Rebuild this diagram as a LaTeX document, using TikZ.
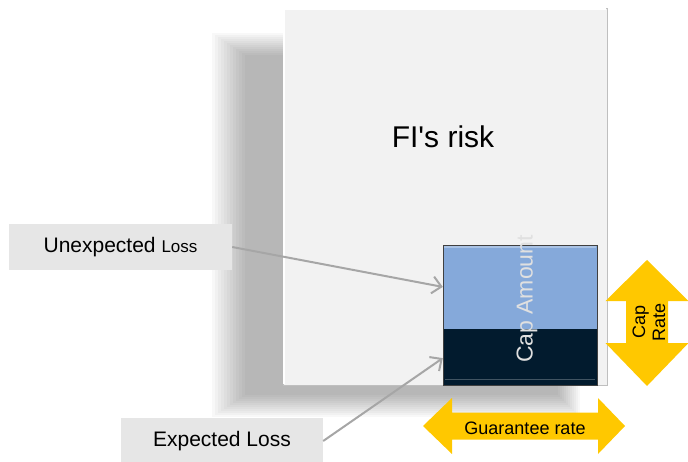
\documentclass[tikz,border=0pt]{standalone}
\usepackage{fontspec}
\setmainfont{Liberation Sans}
\usetikzlibrary{arrows.meta,positioning,calc}
\definecolor{RiskFill}{RGB}{242,242,242}
\definecolor{RiskLine}{RGB}{191,191,191}
\definecolor{CapBlue}{RGB}{133,169,218}
\definecolor{CapNavy}{RGB}{2,27,46}
\definecolor{RateGold}{RGB}{255,200,0}
\definecolor{LabelFill}{RGB}{230,230,230}
\definecolor{PointerGray}{RGB}{166,166,166}

\begin{document}
\begin{tikzpicture}[
  x=1pt,
  y=1pt,
  riskbox/.style={
    rectangle,
    draw=RiskLine,
    fill=RiskFill,
    minimum width=324pt,
    minimum height=377pt,
    inner sep=0pt
  },
  capbox/.style={
    rectangle,
    draw=black!75,
    fill=CapBlue,
    minimum width=154pt,
    minimum height=140pt,
    inner sep=0pt
  },
  lossbox/.style={
    rectangle,
    fill=LabelFill,
    minimum height=46pt,
    inner sep=0pt,
    font=\fontsize{21}{25}\selectfont
  },
  pointer/.style={-{Straight Barb[length=9pt,width=17pt]}, draw=PointerGray, line width=2pt},
  goldarrow/.style={fill=RateGold},
  ratetext/.style={align=center, font=\fontsize{18}{20}\selectfont}
]
\useasboundingbox (0,0) rectangle (688,461);

% soft shadow behind the risk box
\foreach \i in {0,...,11}
  \fill[black, opacity=0.028] (212+3*\i,44+2*\i) rectangle (580-2*\i,428-2*\i);

% risk box
\node[riskbox] (bigbox) at (445,264.5) {};
\draw[white, line width=2pt] ($(bigbox.south west)+(1.5,1.5)$) -- ($(bigbox.north west)+(1.5,-1.5)$) -- ($(bigbox.north east)+(-1.5,-1.5)$);
\node[font=\fontsize{30}{36}\selectfont] (risk) at (443,324) {FI\textquotesingle s risk};

% cap amount box
\node[capbox] (cap) at (520,146) {};
\fill[CapNavy] (cap.south west) rectangle ($(cap.east)+(0,-14)$);
\draw[CapBlue!70!white, line width=1.5pt] ($(cap.north west)+(1.5,-2)$) -- ($(cap.north east)+(-1.5,-2)$);
\draw[CapNavy!75!white, line width=1pt] ($(cap.south west)+(2,6)$) -- ($(cap.south east)+(-2,6)$);
\draw[black!75] (cap.south west) rectangle (cap.north east);
\node[rotate=90, text=white!88!black, font=\fontsize{23}{27}\selectfont] (capamt) at (527,162) {Cap Amount};

% cap rate arrow
\fill[goldarrow] (647,201) -- (688.5,160) -- (668,160) -- (668,118) -- (688.5,118) -- (647,75)
  -- (605.5,118) -- (626,118) -- (626,160) -- (605.5,160) -- cycle;
\node[ratetext, rotate=90] (caprate) at (649,139) {Cap\\Rate};

% guarantee rate arrow
\fill[goldarrow] (423,35) -- (452,63) -- (452,48.5) -- (598,48.5) -- (598,63) -- (625,35)
  -- (598,7) -- (598,21.5) -- (452,21.5) -- (452,7) -- cycle;
\node[ratetext] (guarantee) at (525,33) {Guarantee rate};

% loss labels
\node[lossbox, minimum width=223pt] (unexp) at (120.5,214) {Unexpected {\fontsize{17}{20}\selectfont Loss}};
\node[lossbox, minimum width=202pt] (exp) at (222,20) {Expected Loss};

\draw[pointer] (unexp.east) -- ($(cap.north west)!0.3!(cap.south west)$);
\draw[pointer] (exp.east) -- ($(cap.north west)!0.807!(cap.south west)$);
\end{tikzpicture}
\end{document}
